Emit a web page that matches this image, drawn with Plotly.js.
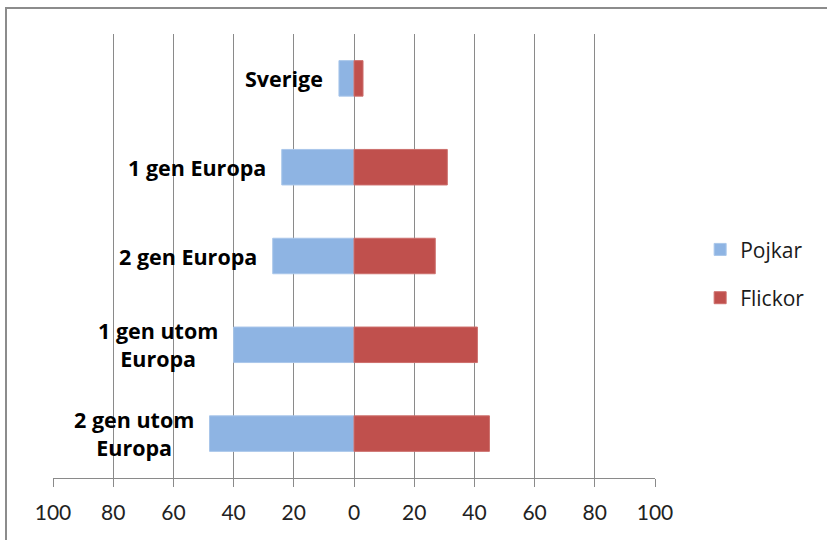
<!DOCTYPE html>
<html>
<head>
<meta charset="utf-8">
<script src="https://cdn.plot.ly/plotly-3.0.1.min.js"></script>
<style>
  html, body { margin: 0; padding: 0; background: #fff; }
  #chart { width: 827px; height: 540px; position: absolute; left: 0; top: 0; }
  #frame { position: absolute; left: 5px; top: 7px; width: 900px; height: 600px;
           border-left: 2px solid #8c8c8c; border-top: 2px solid #8c8c8c; pointer-events: none; }
</style>
</head>
<body>
<div id="chart"></div>
<div id="frame"></div>
<script>
const categories = ["Sverige", "1 gen Europa", "2 gen Europa", "1 gen utom Europa", "2 gen utom Europa"];
const categoryLabels = ["Sverige", "1 gen Europa", "2 gen Europa", "1 gen utom<br>Europa", "2 gen utom<br>Europa"];
const pojkar = [5, 24, 27, 40, 48];
const flickor = [3, 31, 27, 41, 45];
const tickVals = [-100, -80, -60, -40, -20, 0, 20, 40, 60, 80, 100];
const tickText = ["100", "80", "60", "40", "20", "0", "20", "40", "60", "80", "100"];

const pojkarNeg = pojkar.map(v => -v);

const traces = [
  { type: 'bar', orientation: 'h', name: 'Pojkar', y: categories, x: pojkarNeg,
    marker: { color: '#8EB4E3', line: { color: '#a9c6ea', width: 1 } },
    width: 0.4, legendgroup: 'p', hoverinfo: 'skip' },
  { type: 'bar', orientation: 'h', name: 'Flickor', y: categories, x: flickor,
    marker: { color: '#C0504D', line: { color: '#cd6f6c', width: 1 } },
    width: 0.4, legendgroup: 'f', hoverinfo: 'skip' }
];

const annotations = categories.map((c, i) => ({
  x: pojkarNeg[i], y: c, xref: 'x', yref: 'y',
  text: '<b>' + categoryLabels[i] + '</b>',
  showarrow: false, xanchor: 'right', yanchor: 'middle', xshift: -14, align: 'center',
  font: { family: '"Open Sans", sans-serif', size: 21.5, color: '#000' }
}));

const layout = {
  width: 827, height: 540,
  margin: { l: 53, r: 172, t: 34, b: 62 },
  paper_bgcolor: '#fff', plot_bgcolor: '#fff',
  barmode: 'relative',
  showlegend: true,
  legend: { x: 1.075, xanchor: 'left', y: 0.46, yanchor: 'middle',
            traceorder: 'grouped', tracegroupgap: 18,
            font: { family: '"Open Sans", sans-serif', size: 21, color: '#1a1a1a' } },
  xaxis: { range: [-100, 100], tickvals: tickVals, ticktext: tickText,
           showgrid: true, gridcolor: '#8a8a8a', gridwidth: 1,
           zeroline: true, zerolinecolor: '#8a8a8a', zerolinewidth: 1,
           showline: true, linecolor: '#8a8a8a', linewidth: 1,
           ticks: 'outside', ticklen: 8, tickcolor: '#8a8a8a', tickwidth: 1,
           ticklabelstandoff: 8,
           tickfont: { family: 'Lato, "Open Sans", sans-serif', size: 21, color: '#222' },
           fixedrange: true },
  yaxis: { categoryorder: 'array', categoryarray: categories, autorange: 'reversed',
           showticklabels: false, showgrid: false, zeroline: false, showline: false, ticks: '',
           fixedrange: true },
  annotations: annotations
};

Plotly.newPlot('chart', traces, layout, { displayModeBar: false, staticPlot: true });
</script>
</body>
</html>
